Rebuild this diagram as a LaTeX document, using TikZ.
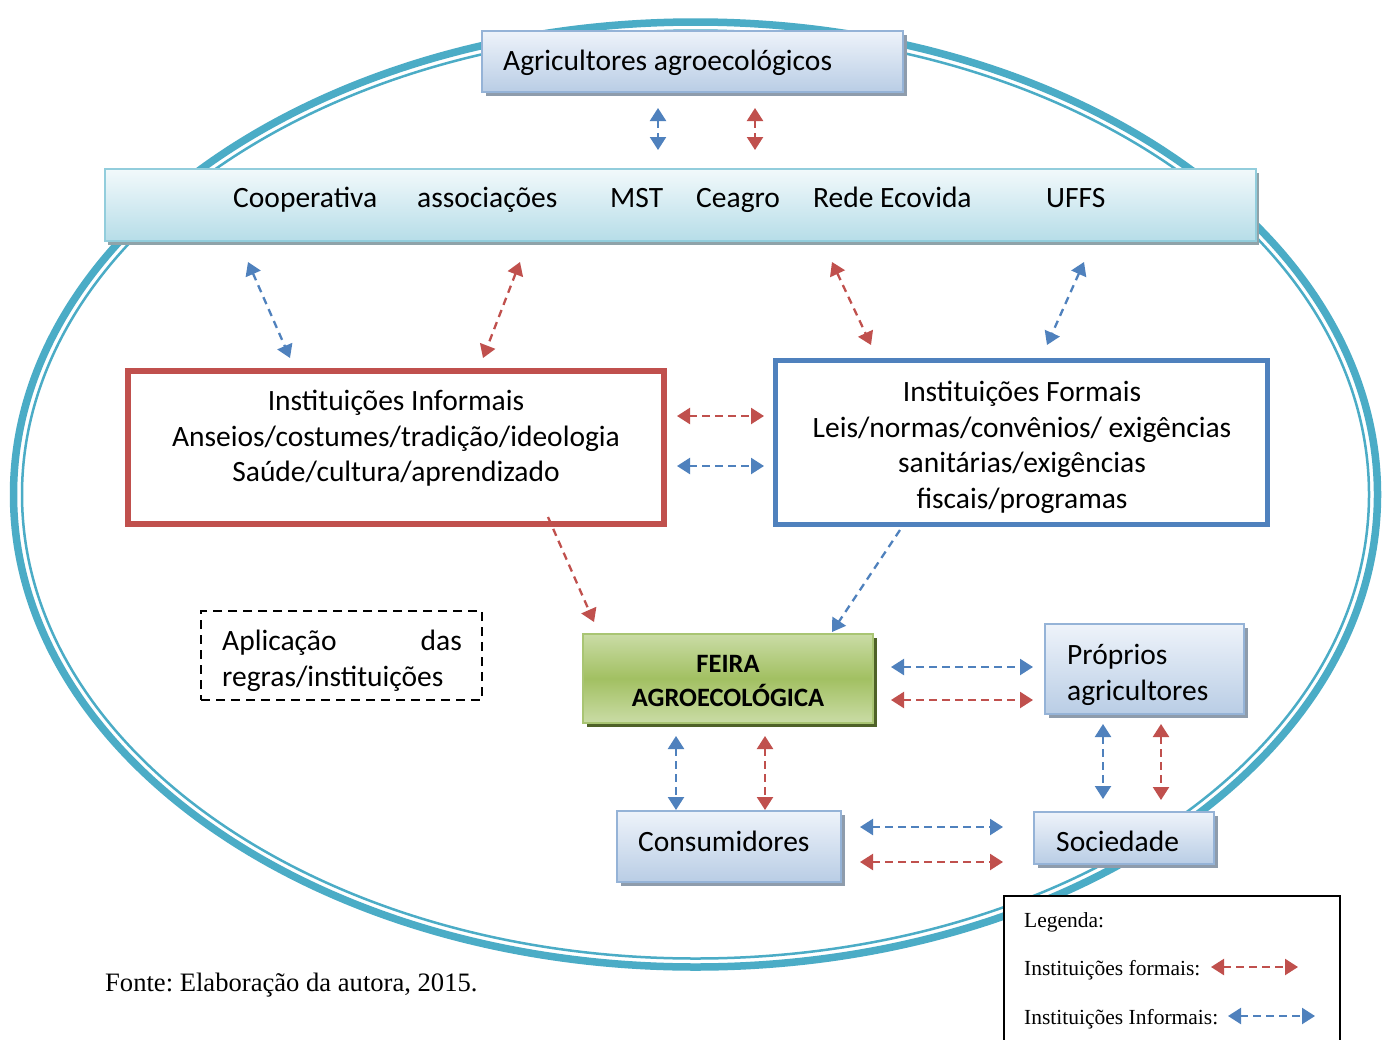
\documentclass[tikz,border=0pt]{standalone}
\usepackage{fontspec}
\setmainfont{Carlito}
\newfontfamily\timesf{Liberation Serif}
\usetikzlibrary{arrows.meta,shadows}
\frenchspacing
\definecolor{ared}{HTML}{C0504D}
\definecolor{ablue}{HTML}{4F81BD}
\definecolor{ring}{HTML}{4BACC6}
\definecolor{boxb}{HTML}{95B3D7}
\definecolor{boxtop}{HTML}{EEF3FA}
\definecolor{boxbot}{HTML}{B9CDE5}
\definecolor{shad}{HTML}{8E9CAC}
\definecolor{barb}{HTML}{92CDDC}
\definecolor{bartop}{HTML}{F2F9FB}
\definecolor{barbot}{HTML}{B6DDE8}
\definecolor{barshad}{HTML}{8FA3A9}
\definecolor{grb}{HTML}{A9C573}
\definecolor{grtop}{HTML}{CADCA6}
\definecolor{grmid}{HTML}{A2C062}
\definecolor{grshad}{HTML}{4F6228}
\begin{document}
\begin{tikzpicture}[x=1pt,y=-1pt,
  lbox/.style={draw=boxb, line width=1.8pt, top color=boxtop, bottom color=boxbot,
    drop shadow={shadow xshift=4pt,shadow yshift=-4pt,fill=shad,opacity=1}},
  barbox/.style={draw=barb, line width=1.8pt, top color=bartop, bottom color=barbot,
    drop shadow={shadow xshift=3pt,shadow yshift=-4pt,fill=barshad,opacity=1}},
  greenbox/.style={draw=grb, line width=1.8pt, top color=grtop, bottom color=grtop, middle color=grmid,
    drop shadow={shadow xshift=4pt,shadow yshift=-4pt,fill=grshad,opacity=1}},
  txt/.style={inner sep=0pt, anchor=base west, font=\fontsize{29.5}{35}\selectfont},
  ctxt/.style={inner sep=0pt, anchor=base, font=\fontsize{29.5}{35}\selectfont},
  ltxt/.style={inner sep=0pt, anchor=base west, font=\timesf\fontsize{21.5}{26}\selectfont},
  arr/.style={line width=2.3pt, dash pattern=on 7.5pt off 5.5pt, {Triangle[width=16pt,length=13pt]}-{Triangle[width=16pt,length=13pt]}},
  arrone/.style={line width=2.3pt, dash pattern=on 7.5pt off 5.5pt, -{Triangle[width=16pt,length=13pt]}}
]
\useasboundingbox (0,0) rectangle (1389,1039);
\fill[white] (0,0) rectangle (1389,1039);

% outer ring
\draw[ring, line width=7.5pt] (695.5,494.5) ellipse [x radius=682, y radius=472.5];
\draw[ring, line width=2.5pt] (695.5,494.5) ellipse [x radius=673.5, y radius=464];

% top boxes
\node[lbox, minimum width=421, minimum height=61] (agr) at (692.5,61.5) {};
\node[txt] (agrt) at (503,70) {Agricultores agroecológicos};

\node[barbox, minimum width=1151, minimum height=72] (org) at (680.5,205) {};
\node[txt] (o1) at (233,207) {Cooperativa};
\node[txt] (o2) at (417,207) {associações};
\node[txt] (o3) at (610,207) {MST};
\node[txt] (o4) at (696,207) {Ceagro};
\node[txt] (o5) at (813,207) {Rede Ecovida};
\node[txt] (o6) at (1046,207) {UFFS};

% institution boxes
\node[draw=ared, line width=6pt, fill=white, minimum width=536, minimum height=153] (inf) at (396,447.5) {};
\node[ctxt] (inf1) at (396,410) {Instituições Informais};
\node[ctxt] (inf2) at (396,446) {Anseios/costumes/tradição/ideologia};
\node[ctxt] (inf3) at (396,481) {Saúde/cultura/aprendizado};

\node[draw=ablue, line width=5pt, fill=white, minimum width=492, minimum height=164] (for) at (1021.5,442.5) {};
\node[ctxt] (for1) at (1022,401) {Instituições Formais};
\node[ctxt] (for2) at (1022,437) {Leis/normas/convênios/ exigências};
\node[ctxt] (for3) at (1022,472) {sanitárias/exigências};
\node[ctxt] (for4) at (1022,508) {fiscais/programas};

% feira
\node[greenbox, minimum width=290, minimum height=89] (feira) at (728,678.5) {};
\node[inner sep=0pt, anchor=base, font=\bfseries\fontsize{26.5}{32}\selectfont] (fe1) at (728,672) {FEIRA};
\node[inner sep=0pt, anchor=base, font=\bfseries\fontsize{26.5}{32}\selectfont] (fe2) at (728,706) {AGROECOLÓGICA};

% dashed box
\node[draw=black, line width=2pt, dash pattern=on 9pt off 6pt, minimum width=281, minimum height=89] (apl) at (341.5,655.5) {};
\node[txt] (apl1) at (222,650) {Aplicação};
\node[inner sep=0pt, anchor=base east, font=\fontsize{29.5}{35}\selectfont] (apl2) at (462,650) {das};
\node[txt] (apl3) at (222,686) {regras/instituições};

% lower boxes
\node[lbox, minimum width=199, minimum height=90] (prop) at (1144.5,669) {};
\node[txt] (prop1) at (1067,664) {Próprios};
\node[txt] (prop2) at (1067,700) {agricultores};

\node[lbox, minimum width=224, minimum height=71] (cons) at (729,846.5) {};
\node[txt] (const) at (638,851) {Consumidores};

\node[lbox, minimum width=180, minimum height=52] (soc) at (1124,838) {};
\node[txt] (soct) at (1056,851) {Sociedade};

% legend
\node[draw=black, line width=1.8pt, fill=white, minimum width=336, minimum height=160] (leg) at (1172,976) {};
\node[ltxt] (leg1) at (1024,927) {Legenda:};
\node[ltxt] (leg2) at (1024,975) {Instituições formais:};
\node[ltxt] (leg3) at (1024,1024) {Instituições Informais:};

\node[ltxt, font=\timesf\fontsize{26.6}{32}\selectfont] (fonte) at (105,991) {Fonte: Elaboração da autora, 2015.};

% connector end points
\coordinate (a1s) at (658,108); \coordinate (a1e) at (658,150);
\coordinate (a2s) at (755,108); \coordinate (a2e) at (755,150);
\coordinate (b1s) at (248,262); \coordinate (b1e) at (290,358);
\coordinate (b2s) at (520,262); \coordinate (b2e) at (483,358);
\coordinate (b3s) at (832,262); \coordinate (b3e) at (871,345);
\coordinate (b4s) at (1084,262); \coordinate (b4e) at (1047,345);
\coordinate (c1s) at (677,416); \coordinate (c1e) at (764,416);
\coordinate (c2s) at (677,466); \coordinate (c2e) at (764,466);
\coordinate (d1s) at (548,517); \coordinate (d1e) at (594,622);
\coordinate (d2s) at (900,530); \coordinate (d2e) at (832,632);
\coordinate (e1s) at (891,667); \coordinate (e1e) at (1033,667);
\coordinate (e2s) at (891,700); \coordinate (e2e) at (1033,700);
\coordinate (f1s) at (676,736); \coordinate (f1e) at (676,810);
\coordinate (f2s) at (765,736); \coordinate (f2e) at (765,810);
\coordinate (g1s) at (1103,724); \coordinate (g1e) at (1103,799);
\coordinate (g2s) at (1161,724); \coordinate (g2e) at (1161,800);
\coordinate (h1s) at (860,827); \coordinate (h1e) at (1003,827);
\coordinate (h2s) at (860,862); \coordinate (h2e) at (1003,862);
\coordinate (l1s) at (1211,967); \coordinate (l1e) at (1298,967);
\coordinate (l2s) at (1228,1016); \coordinate (l2e) at (1315,1016);

\draw[arr, ablue] (a1s) -- (a1e);
\draw[arr, ared] (a2s) -- (a2e);
\draw[arr, ablue] (b1s) -- (b1e);
\draw[arr, ared] (b2s) -- (b2e);
\draw[arr, ared] (b3s) -- (b3e);
\draw[arr, ablue] (b4s) -- (b4e);
\draw[arr, ared] (c1s) -- (c1e);
\draw[arr, ablue] (c2s) -- (c2e);
\draw[arrone, ared] (d1s) -- (d1e);
\draw[arrone, ablue] (d2s) -- (d2e);
\draw[arr, ablue] (e1s) -- (e1e);
\draw[arr, ared] (e2s) -- (e2e);
\draw[arr, ablue] (f1s) -- (f1e);
\draw[arr, ared] (f2s) -- (f2e);
\draw[arr, ablue] (g1s) -- (g1e);
\draw[arr, ared] (g2s) -- (g2e);
\draw[arr, ablue] (h1s) -- (h1e);
\draw[arr, ared] (h2s) -- (h2e);
\draw[arr, ared] (l1s) -- (l1e);
\draw[arr, ablue] (l2s) -- (l2e);
\end{tikzpicture}
\end{document}
